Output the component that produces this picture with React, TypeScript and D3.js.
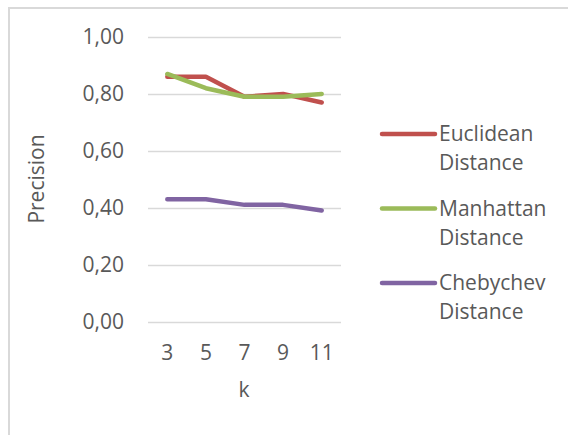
import React from 'react';
import * as d3 from 'd3';

const kValues = ['3', '5', '7', '9', '11'];
const euclidean = [0.86, 0.86, 0.79, 0.8, 0.77];
const manhattan = [0.87, 0.82, 0.79, 0.79, 0.8];
const chebychev = [0.43, 0.43, 0.41, 0.41, 0.39];
const yTicks = [0, 0.2, 0.4, 0.6, 0.8, 1.0];

const seriesList = [
  { name: ['Euclidean', 'Distance'], values: euclidean, color: '#C0504D' },
  { name: ['Manhattan', 'Distance'], values: manhattan, color: '#9BBB59' },
  { name: ['Chebychev', 'Distance'], values: chebychev, color: '#8064A2' },
];

const W = 568;
const H = 435;
const font = '"Open Sans", sans-serif';
const textColor = '#595959';
const fs = 21;

export default function App() {
  const x = d3.scaleBand<string>().domain(kValues).range([148, 341]);
  const y = d3.scaleLinear().domain([0, 1]).range([321.5, 37]);
  const fmt = (v: number) => v.toFixed(2).replace('.', ',');

  const line = d3
    .line<number>()
    .x((_, i) => (x(kValues[i]) as number) + x.bandwidth() / 2)
    .y((d) => y(d));

  return (
    <svg
      width={W}
      height={H}
      style={{ position: 'absolute', left: 0, top: 0, background: '#fff' }}
      fontFamily={font}
    >
      <rect x={9} y={8} width={W + 20} height={H + 20} fill="#fff" stroke="#d9d9d9" strokeWidth={2} />

      {/* gridlines + y labels */}
      {yTicks.map((t) => (
        <g key={t}>
          <line x1={148} x2={341} y1={Math.round(y(t)) + 0.5} y2={Math.round(y(t)) + 0.5} stroke="#d9d9d9" strokeWidth={1.3} />
          <text x={124} y={y(t)} dy="0.35em" textAnchor="end" fontSize={fs} fill={textColor}>
            {fmt(t)}
          </text>
        </g>
      ))}

      {/* x labels */}
      {kValues.map((k) => (
        <text
          key={k}
          x={(x(k) as number) + x.bandwidth() / 2}
          y={353}
          dy="0.35em"
          textAnchor="middle"
          fontSize={fs}
          fill={textColor}
        >
          {k}
        </text>
      ))}

      <text x={244} y={390} dy="0.35em" textAnchor="middle" fontSize={fs} fill={textColor}>
        k
      </text>
      <text
        transform="translate(37,179) rotate(-90)"
        textAnchor="middle"
        dy="0.35em"
        fontSize={fs}
        fill={textColor}
      >
        Precision
      </text>

      {/* series */}
      {seriesList.map((s) => (
        <path
          key={s.name[0]}
          d={line(s.values) as string}
          fill="none"
          stroke={s.color}
          strokeWidth={4.5}
          strokeLinecap="round"
          strokeLinejoin="round"
        />
      ))}

      {/* legend */}
      {seriesList.map((s, i) => {
        const ly = 134 + i * 74.5;
        return (
          <g key={s.name[0]}>
            <line x1={382} x2={435} y1={ly} y2={ly} stroke={s.color} strokeWidth={4.5} strokeLinecap="round" />
            <text x={439} y={ly} dy="0.35em" fontSize={fs} fill={textColor}>
              {s.name[0]}
            </text>
            <text x={439} y={ly + 29} dy="0.35em" fontSize={fs} fill={textColor}>
              {s.name[1]}
            </text>
          </g>
        );
      })}
    </svg>
  );
}
